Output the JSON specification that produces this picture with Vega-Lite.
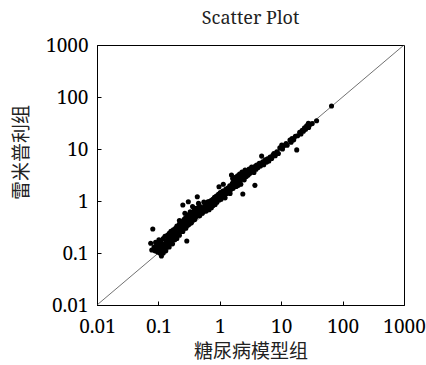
{
  "$schema": "https://vega.github.io/schema/vega-lite/v6.json",
  "width": 307,
  "height": 260,
  "autosize": {"type": "none"},
  "padding": {"left": 97, "top": 45, "right": 22, "bottom": 60},
  "background": "white",
  "title": {"text": "Scatter Plot", "font": "Noto Serif", "fontSize": 18, "fontWeight": "normal", "color": "#222", "anchor": "middle", "offset": 8},
  "config": {
    "view": {"stroke": "black", "strokeWidth": 1},
    "axis": {
      "labelFont": "Noto Serif", "labelFontSize": 19, "labelColor": "black",
      "titleFont": "Noto Sans CJK SC", "titleFontSize": 19, "titleFontWeight": "normal", "titleColor": "#222",
      "domainColor": "black", "tickColor": "black", "grid": false
    }
  },
  "datasets": {
    "pts": [
      {"a":0.075,"b":0.154},{"a":0.078,"b":0.114},{"a":0.081,"b":0.29},{"a":0.085,"b":0.13},{"a":0.088,"b":0.11},{"a":0.09,"b":0.16},{"a":0.092,"b":0.12},{"a":0.095,"b":0.14},{"a":0.097,"b":0.105},{"a":0.1,"b":0.12},{"a":0.1,"b":0.15},{"a":0.102,"b":0.18},{"a":0.105,"b":0.1},{"a":0.107,"b":0.13},{"a":0.11,"b":0.16},{"a":0.11,"b":0.11},{"a":0.112,"b":0.088},{"a":0.115,"b":0.14},{"a":0.118,"b":0.125},{"a":0.12,"b":0.1},{"a":0.12,"b":0.19},{"a":0.123,"b":0.15},{"a":0.125,"b":0.12},{"a":0.128,"b":0.21},{"a":0.13,"b":0.14},{"a":0.132,"b":0.11},{"a":0.135,"b":0.17},{"a":0.138,"b":0.16},{"a":0.14,"b":0.22},{"a":0.14,"b":0.13},{"a":0.145,"b":0.19},{"a":0.148,"b":0.15},{"a":0.15,"b":0.13},{"a":0.15,"b":0.24},{"a":0.155,"b":0.2},{"a":0.158,"b":0.17},{"a":0.16,"b":0.26},{"a":0.165,"b":0.18},{"a":0.168,"b":0.22},{"a":0.17,"b":0.15},{"a":0.175,"b":0.28},{"a":0.178,"b":0.2},{"a":0.18,"b":0.24},{"a":0.185,"b":0.18},{"a":0.19,"b":0.3},{"a":0.19,"b":0.21},{"a":0.195,"b":0.25},{"a":0.2,"b":0.33},{"a":0.2,"b":0.19},
      {"a":0.205,"b":0.22},{"a":0.21,"b":0.3},{"a":0.215,"b":0.25},{"a":0.22,"b":0.36},{"a":0.22,"b":0.22},{"a":0.22,"b":0.42},{"a":0.225,"b":0.3},{"a":0.23,"b":0.26},{"a":0.235,"b":0.38},{"a":0.24,"b":0.28},{"a":0.245,"b":0.33},{"a":0.25,"b":0.84},{"a":0.25,"b":0.36},{"a":0.25,"b":0.26},{"a":0.255,"b":0.42},{"a":0.26,"b":0.3},{"a":0.265,"b":0.45},{"a":0.27,"b":0.32},{"a":0.27,"b":0.58},{"a":0.275,"b":0.37},{"a":0.28,"b":0.48},{"a":0.28,"b":0.3},{"a":0.285,"b":0.4},{"a":0.29,"b":0.43},{"a":0.29,"b":0.17},{"a":0.295,"b":0.34},{"a":0.3,"b":0.52},{"a":0.3,"b":0.38},{"a":0.307,"b":0.97},{"a":0.31,"b":0.35},{"a":0.315,"b":0.46},{"a":0.32,"b":0.56},{"a":0.32,"b":0.37},{"a":0.33,"b":0.47},{"a":0.33,"b":0.62},{"a":0.335,"b":0.41},{"a":0.34,"b":0.52},{"a":0.345,"b":0.38},{"a":0.35,"b":0.5},{"a":0.355,"b":0.6},{"a":0.36,"b":0.43},{"a":0.36,"b":0.78},{"a":0.37,"b":0.55},{"a":0.375,"b":0.46},{"a":0.38,"b":0.64},{"a":0.385,"b":0.5},{"a":0.39,"b":0.44},{"a":0.39,"b":0.72},{"a":0.4,"b":0.56},{"a":0.4,"b":0.68},{"a":0.41,"b":0.5},{"a":0.42,"b":0.62},{"a":0.43,"b":1.21},{"a":0.43,"b":0.54},{"a":0.44,"b":0.74},{"a":0.45,"b":0.58},{"a":0.45,"b":0.9},{"a":0.46,"b":0.66},{"a":0.47,"b":0.52},{"a":0.48,"b":0.78},{"a":0.49,"b":0.62},{"a":0.5,"b":0.7},
      {"a":0.52,"b":0.58},{"a":0.53,"b":0.74},{"a":0.55,"b":0.95},{"a":0.55,"b":0.64},{"a":0.57,"b":0.8},{"a":0.58,"b":0.68},{"a":0.6,"b":0.88},{"a":0.6,"b":0.64},{"a":0.62,"b":0.76},{"a":0.64,"b":0.97},{"a":0.65,"b":0.8},{"a":0.67,"b":0.68},{"a":0.68,"b":0.98},{"a":0.7,"b":0.84},{"a":0.72,"b":1.02},{"a":0.73,"b":0.74},{"a":0.75,"b":0.92},{"a":0.77,"b":1.08},{"a":0.78,"b":0.82},{"a":0.8,"b":0.98},{"a":0.82,"b":1.18},{"a":0.84,"b":0.86},{"a":0.86,"b":1.05},{"a":0.88,"b":1.25},{"a":0.9,"b":0.95},{"a":0.92,"b":1.12},{"a":0.95,"b":1.35},{"a":0.97,"b":1.88},{"a":0.98,"b":1.05},{"a":1.0,"b":1.22},{"a":1.02,"b":1.45},{"a":1.05,"b":1.08},{"a":1.08,"b":1.38},{"a":1.1,"b":1.25},{"a":1.12,"b":1.55},{"a":1.14,"b":2.1},{"a":1.15,"b":1.3},{"a":1.2,"b":1.5},{"a":1.22,"b":1.15},{"a":1.25,"b":1.68},{"a":1.3,"b":1.4},{"a":1.35,"b":1.78},{"a":1.4,"b":1.55},{"a":1.45,"b":1.95},{"a":1.47,"b":1.4},{"a":1.5,"b":1.65},
      {"a":1.55,"b":3.16},{"a":1.55,"b":1.85},{"a":1.6,"b":2.2},{"a":1.62,"b":2.7},{"a":1.65,"b":1.75},{"a":1.7,"b":2.4},{"a":1.75,"b":2.05},{"a":1.8,"b":2.85},{"a":1.82,"b":2.25},{"a":1.85,"b":1.9},{"a":1.9,"b":2.6},{"a":1.95,"b":3.05},{"a":2.0,"b":2.35},{"a":2.0,"b":2.0},{"a":2.05,"b":2.8},{"a":2.1,"b":3.3},{"a":2.15,"b":2.45},{"a":2.2,"b":2.1},{"a":2.25,"b":2.95},{"a":2.3,"b":3.6},{"a":2.37,"b":1.36},{"a":2.4,"b":2.7},{"a":2.45,"b":3.1},{"a":2.5,"b":2.55},{"a":2.58,"b":3.95},{"a":2.6,"b":3.35},{"a":2.7,"b":2.95},{"a":2.8,"b":3.7},{"a":2.9,"b":3.15},{"a":3.0,"b":4.1},{"a":3.1,"b":3.4},{"a":3.2,"b":3.9},{"a":3.3,"b":4.5},{"a":3.4,"b":3.7},{"a":3.5,"b":4.3},{"a":3.6,"b":3.55},{"a":3.73,"b":2.0},{"a":3.8,"b":4.7},{"a":3.9,"b":4.1},{"a":4.0,"b":4.9},{"a":4.2,"b":4.4},{"a":4.4,"b":5.3},{"a":4.6,"b":4.7},{"a":4.8,"b":7.3},{"a":5.0,"b":5.7},
      {"a":5.2,"b":5.0},{"a":5.5,"b":6.2},{"a":5.8,"b":5.6},{"a":6.0,"b":6.5},{"a":6.3,"b":5.9},{"a":6.6,"b":7.0},{"a":7.0,"b":6.6},{"a":7.3,"b":7.6},{"a":7.6,"b":8.2},{"a":8.0,"b":7.4},{"a":8.5,"b":8.8},{"a":9.0,"b":8.2},{"a":9.5,"b":10.5},{"a":10.2,"b":11.9},{"a":10.5,"b":10.0},{"a":11,"b":11.5},{"a":12,"b":12.8},{"a":12.5,"b":11.8},{"a":13.9,"b":14.9},{"a":14.5,"b":13.5},{"a":15,"b":15.8},{"a":16,"b":15.0},{"a":17,"b":17.5},{"a":17.9,"b":9.6},{"a":18.5,"b":18.0},{"a":20,"b":21},{"a":21,"b":19.5},{"a":22,"b":23},{"a":23,"b":22},{"a":24,"b":25.5},{"a":25,"b":24},{"a":26,"b":28},{"a":27.7,"b":31.2},{"a":28,"b":26},{"a":30,"b":30},{"a":32,"b":31},{"a":37.7,"b":35},{"a":66,"b":67}
    ],
    "diag": [{"a":0.01,"b":0.01},{"a":1000,"b":1000}]
  },
  "layer": [
    {
      "data": {"name": "diag"},
      "mark": {"type": "line", "color": "#333", "strokeWidth": 0.7, "clip": true},
      "encoding": {
        "x": {"field": "a", "type": "quantitative", "scale": {"type": "log", "domain": [0.01, 1000], "nice": false},
              "axis": {"values": [0.01,0.1,1,10,100,1000], "format": "~g", "title": "糖尿病模型组", "tickSize": -4, "labelPadding": 16, "labelFlush": false, "labelOverlap": false, "titlePadding": 6}},
        "y": {"field": "b", "type": "quantitative", "scale": {"type": "log", "domain": [0.01, 1000], "nice": false},
              "axis": {"values": [0.01,0.1,1,10,100,1000], "format": "~g", "title": "雷米普利组", "tickSize": -4, "labelPadding": 13, "labelFlush": false, "labelOverlap": false, "titleX": -66, "titleY": 107}}
      }
    },
    {
      "data": {"name": "pts"},
      "mark": {"type": "circle", "color": "black", "opacity": 1, "size": 26},
      "encoding": {
        "x": {"field": "a", "type": "quantitative"},
        "y": {"field": "b", "type": "quantitative"}
      }
    }
  ]
}
